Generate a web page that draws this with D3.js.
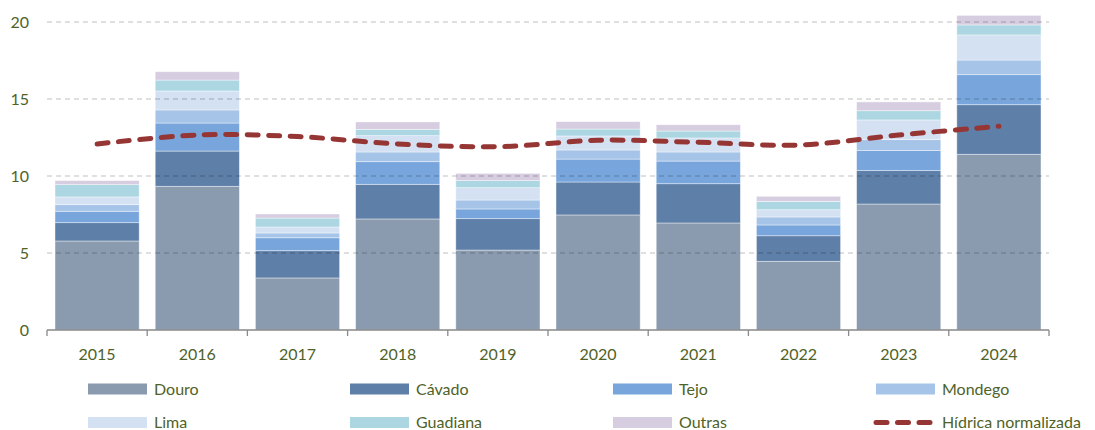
<!DOCTYPE html>
<html>
<head>
<style>
body { margin: 0; background: #fff; }
svg text { font-family: Lato, "Open Sans", sans-serif; fill: #4f6228; }
</style>
<script src="https://cdn.jsdelivr.net/npm/d3@7"></script>
</head>
<body>
<svg id="chart" width="1095" height="430"></svg>
<script>
const years = ['2015','2016','2017','2018','2019','2020','2021','2022','2023','2024'];
const seriesNames = ['Douro','Cávado','Tejo','Mondego','Lima','Guadiana','Outras'];
const douro    = [5.78, 9.33, 3.38, 7.21, 5.19, 7.47, 6.95, 4.46, 8.18, 11.41];
const cavado   = [1.19, 2.29, 1.77, 2.25, 2.04, 2.14, 2.55, 1.66, 2.17, 3.22];
const tejo     = [0.74, 1.82, 0.84, 1.47, 0.63, 1.49, 1.47, 0.70, 1.30, 1.95];
const mondego  = [0.43, 0.85, 0.31, 0.63, 0.58, 0.59, 0.59, 0.52, 0.71, 0.95];
const lima     = [0.50, 1.23, 0.39, 1.06, 0.80, 0.91, 0.91, 0.47, 1.28, 1.63];
const guadiana = [0.80, 0.71, 0.58, 0.41, 0.46, 0.45, 0.45, 0.54, 0.60, 0.65];
const outras   = [0.26, 0.54, 0.26, 0.48, 0.47, 0.48, 0.41, 0.33, 0.57, 0.62];
const hidrica  = [12.08, 12.66, 12.56, 12.08, 11.90, 12.32, 12.19, 12.01, 12.66, 13.23];
const yTicks = [0, 5, 10, 15, 20];
const lineName = 'Hídrica normalizada';

const colors = ['#8a9bb0','#5e7fa8','#77a5dc','#a6c3e8','#d3e1f3','#acd7e2','#d6cde0'];
const lineColor = '#963634';

const svg = d3.select('#chart');
const margin = {left: 47, right: 46, top: 22, bottom: 100};
const width = 1095, height = 430;

const rows = years.map((y, i) => ({
    year: y,
    Douro: douro[i], 'Cávado': cavado[i], Tejo: tejo[i], Mondego: mondego[i],
    Lima: lima[i], Guadiana: guadiana[i], Outras: outras[i]
}));

const x = d3.scaleBand().domain(years).range([margin.left, width - margin.right]).paddingInner(0.16).paddingOuter(0.08);
const y = d3.scaleLinear().domain([0, 20]).range([height - margin.bottom, margin.top]);
const color = d3.scaleOrdinal().domain(seriesNames).range(colors);

const stacked = d3.stack().keys(seriesNames)(rows);

// bars
svg.append('g').selectAll('g')
    .data(stacked)
    .join('g')
        .attr('fill', d => color(d.key))
    .selectAll('rect')
    .data(d => d)
    .join('rect')
        .attr('x', d => x(d.data.year))
        .attr('width', x.bandwidth())
        .attr('y', d => y(d[1]))
        .attr('height', d => y(d[0]) - y(d[1]))
        .attr('stroke', 'rgba(255,255,255,0.5)')
        .attr('stroke-width', 0.8);

// gridlines drawn over the bars, like the original
svg.append('g').selectAll('line')
    .data(yTicks.filter(t => t > 0))
    .join('line')
        .attr('x1', margin.left)
        .attr('x2', width - margin.right)
        .attr('y1', d => y(d))
        .attr('y2', d => y(d))
        .attr('stroke', 'rgba(0,0,0,0.25)')
        .attr('stroke-width', 1.2)
        .attr('stroke-dasharray', '5,4');

// y axis labels
const yAxis = svg.append('g')
    .attr('transform', `translate(${margin.left},0)`)
    .call(d3.axisLeft(y).tickValues(yTicks).tickSize(0).tickPadding(18));
yAxis.select('.domain').remove();
yAxis.selectAll('text').attr('font-size', 16).style('font-family', 'Lato, sans-serif').attr('fill', '#4f6228');

// x axis
const x0 = y(0);
const xAxisG = svg.append('g');
xAxisG.append('line')
    .attr('x1', margin.left).attr('x2', width - margin.right)
    .attr('y1', x0).attr('y2', x0)
    .attr('stroke', '#898989').attr('stroke-width', 1.5);
const step = x.step();
const boundaries = years.map(yy => x(yy) - step * x.paddingInner() / 2).concat([width - margin.right]);
boundaries[0] = margin.left;
xAxisG.selectAll('line.tick')
    .data(boundaries)
    .join('line')
        .attr('class', 'tick')
        .attr('x1', d => d).attr('x2', d => d)
        .attr('y1', x0).attr('y2', x0 + 6)
        .attr('stroke', '#898989').attr('stroke-width', 1.3);
xAxisG.selectAll('text')
    .data(years)
    .join('text')
        .attr('x', d => x(d) + x.bandwidth() / 2)
        .attr('y', x0 + 30)
        .attr('text-anchor', 'middle')
        .attr('font-size', 16)
        .text(d => d);

// line
const line = d3.line()
    .x((d, i) => x(years[i]) + x.bandwidth() / 2)
    .y(d => y(d))
    .curve(d3.curveCatmullRom.alpha(0.5));
svg.append('path')
    .datum(hidrica)
    .attr('d', line)
    .attr('fill', 'none')
    .attr('stroke', lineColor)
    .attr('stroke-width', 5)
    .attr('stroke-linecap', 'round')
    .attr('stroke-dasharray', '11,10.5');

// legend
const legendItems = seriesNames.concat([lineName]);
const colX = [88, 350, 613, 876];
const rowY = [389, 422.5];
const legend = svg.append('g').selectAll('g')
    .data(legendItems)
    .join('g')
        .attr('transform', (d, i) => `translate(${colX[i % 4]},${rowY[Math.floor(i / 4)]})`);
legend.filter(d => d !== lineName).append('rect')
    .attr('x', 0).attr('y', -5.5).attr('width', 59).attr('height', 11)
    .attr('fill', d => color(d));
legend.filter(d => d === lineName).append('line')
    .attr('x1', 0).attr('x2', 55).attr('y1', 0).attr('y2', 0)
    .attr('stroke', lineColor).attr('stroke-width', 5)
    .attr('stroke-linecap', 'round')
    .attr('stroke-dasharray', '11,10.5');
legend.append('text')
    .attr('x', 66).attr('y', 0).attr('dy', '0.35em')
    .attr('font-size', 16)
    .text(d => d);
</script>
</body>
</html>
